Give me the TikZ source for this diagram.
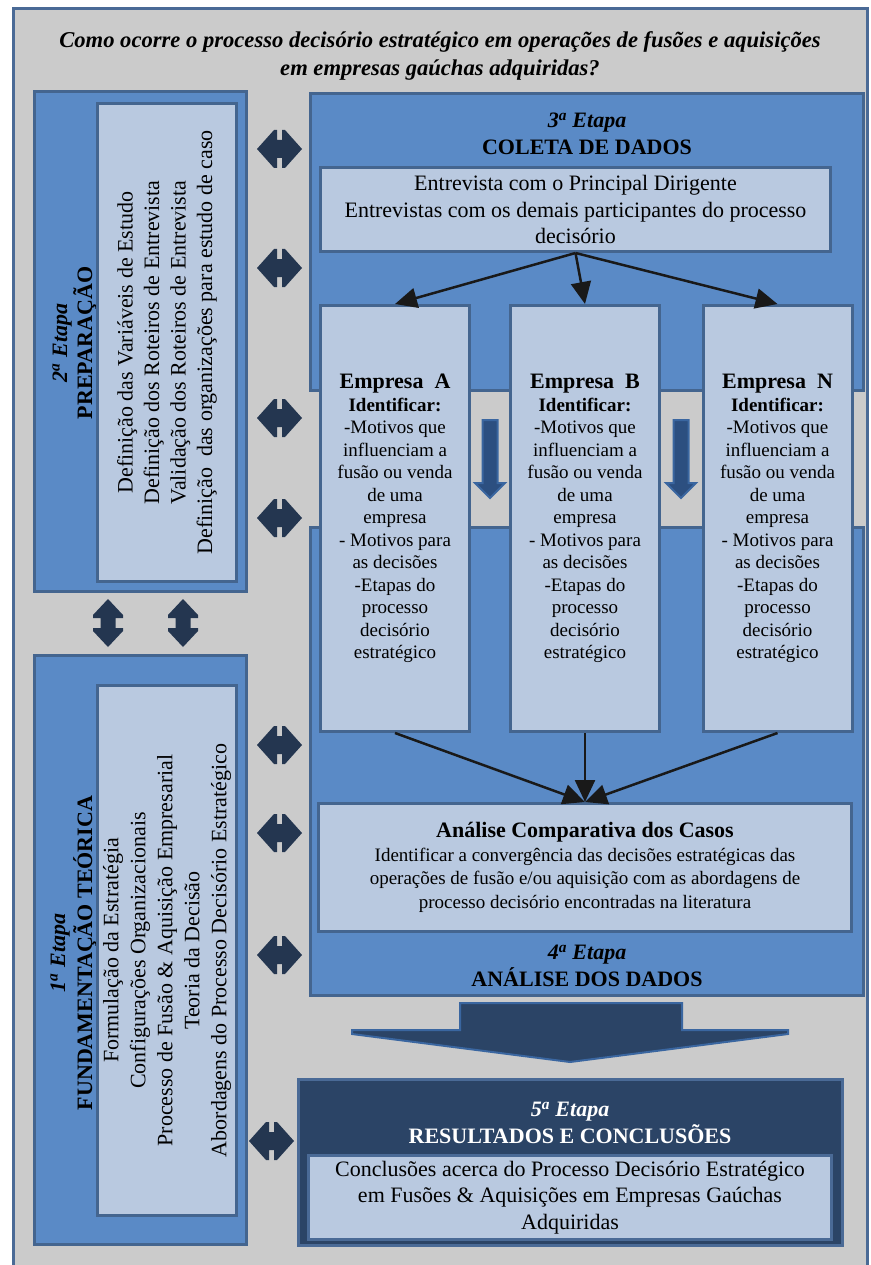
\documentclass[tikz,border=0pt]{standalone}
\usepackage{fontspec}
\setmainfont{Liberation Serif}
\usetikzlibrary{arrows.meta}

\definecolor{bggray}{HTML}{CBCBCB}
\definecolor{framecol}{HTML}{4A6A96}
\definecolor{stageblue}{HTML}{5A8AC6}
\definecolor{edgeblue}{HTML}{44658F}
\definecolor{itemblue}{HTML}{B9C9E0}
\definecolor{navy}{HTML}{243650}
\definecolor{darkstage}{HTML}{2B4466}
\definecolor{downfill}{HTML}{2C4F80}
\definecolor{downedge}{HTML}{3A66A0}

\begin{document}
\begin{tikzpicture}[x=1pt, y=-1pt,
    stagebox/.style={draw=edgeblue, fill=stageblue, line width=3pt, inner sep=0pt},
    itembox/.style={draw=edgeblue, fill=itemblue, line width=3pt, inner sep=0pt, align=center},
    bodytext/.style={font=\fontsize{22}{26.5}\selectfont},
    smalltext/.style={font=\fontsize{19}{22.5}\selectfont},
    headtext/.style={align=center, font=\fontsize{22}{27}\selectfont\bfseries},
    flow/.style={draw=black!90, line width=2.5pt, -{Triangle[length=22pt, width=20pt]}},
    pics/hdouble/.style={code={
      \fill[navy] (-22.5,0) -- (-5.5,-19) -- (-2.5,-19) -- (-2.5,-9) -- (2.5,-9) -- (2.5,-19) -- (5.5,-19)
        -- (22.5,0) -- (5.5,19) -- (2.5,19) -- (2.5,9) -- (-2.5,9) -- (-2.5,19) -- (-5.5,19) -- cycle;}},
    pics/vdouble/.style={code={
      \fill[navy] (0,-24) -- (15,-8) -- (15,-5) -- (7.5,-5) -- (7.5,5) -- (15,5) -- (15,8)
        -- (0,24) -- (-15,8) -- (-15,5) -- (-7.5,5) -- (-7.5,-5) -- (-15,-5) -- (-15,-8) -- cycle;}},
    pics/gapdown/.style={code={
      \draw[fill=downfill, draw=downedge, line width=2pt] (-7.5,0) -- (7.5,0) -- (7.5,63) -- (15,63)
        -- (0,78) -- (-15,63) -- (-7.5,63) -- cycle;}}
  ]
    % page and frame
    \path[use as bounding box, fill=white] (0,0) rectangle (870,1265);
    \draw[draw=framecol, fill=bggray, line width=3pt] (13.5,8.5) rectangle (867.5,1280);

    % question
    \node[headtext, font=\fontsize{22.6}{28}\selectfont\bfseries\itshape] (question) at (440,56)
      {Como ocorre o processo decisório estratégico em operações de fusões e aquisições\\em empresas gaúchas adquiridas?};

    % 2a etapa
    \node[stagebox, minimum width=212pt, minimum height=500pt] (prep) at (140.5,341.5) {};
    \node[headtext, rotate=90, font=\fontsize{22}{25}\selectfont\bfseries] (prephead) at (74.5,343)
      {\textit{2\textsuperscript{a} Etapa}\\PREPARAÇÃO};
    \node[itembox, bodytext, rotate=90, minimum width=478pt, minimum height=139pt] (prepitems) at (167,342.5)
      {Definição das Variáveis de Estudo\\Definição dos Roteiros de Entrevista\\Validação dos Roteiros de Entrevista\\Definição \ das organizações para estudo de caso};

    % 1a etapa
    \node[stagebox, minimum width=212pt, minimum height=589pt] (theory) at (140.5,950) {};
    \node[headtext, rotate=90] (theoryhead) at (73.5,953)
      {\textit{1\textsuperscript{a} Etapa}\\FUNDAMENTAÇÃO TEÓRICA};
    \node[itembox, rotate=90, font=\fontsize{22}{27}\selectfont, minimum width=530pt, minimum height=139pt] (theoryitems) at (167,950.5)
      {Formulação da Estratégia\\Configurações Organizacionais\\Processo de Fusão \& Aquisição Empresarial\\Teoria da Decisão\\Abordagens do Processo Decisório Estratégico};

    % arrows between 1a and 2a etapa
    \pic at (108,623) {vdouble};
    \pic at (183,623) {vdouble};

    % 3a and 4a etapa
    \node[stagebox, minimum width=553pt, minimum height=297pt] (coleta) at (587,242) {};
    \node[stagebox, minimum width=553pt, minimum height=468pt] (analysis) at (587,761.5) {};
    \node[headtext] (coletahead) at (587,134) {\textit{3\textsuperscript{a} Etapa}\\COLETA DE DADOS};
    \node[headtext] (analysishead) at (587,966) {\textit{4\textsuperscript{a} Etapa}\\ANÁLISE DOS DADOS};
    \pic at (490,420) {gapdown};
    \pic at (681,420) {gapdown};

    \node[itembox, bodytext, minimum width=510pt, minimum height=84pt] (interview) at (575.5,209.5)
      {Entrevista com o Principal Dirigente\\Entrevistas com os demais participantes do processo\\decisório};

    % empresas
    \node[itembox, smalltext, minimum width=149pt, minimum height=426pt] (empA) at (395,518.5)
      {\textbf{\fontsize{22}{25}\selectfont Empresa\ \ A}\\\textbf{Identificar:}\\-Motivos que\\influenciam a\\fusão ou venda\\de uma\\empresa\\- Motivos para\\as decisões\\-Etapas do\\processo\\decisório\\estratégico};
    \node[itembox, smalltext, minimum width=149pt, minimum height=426pt] (empB) at (585,518.5)
      {\textbf{\fontsize{22}{25}\selectfont Empresa\ \ B}\\\textbf{Identificar:}\\-Motivos que\\influenciam a\\fusão ou venda\\de uma\\empresa\\- Motivos para\\as decisões\\-Etapas do\\processo\\decisório\\estratégico};
    \node[itembox, smalltext, minimum width=149pt, minimum height=426pt] (empN) at (777.5,518.5)
      {\textbf{\fontsize{22}{25}\selectfont Empresa\ \ N}\\\textbf{Identificar:}\\-Motivos que\\influenciam a\\fusão ou venda\\de uma\\empresa\\- Motivos para\\as decisões\\-Etapas do\\processo\\decisório\\estratégico};

    \node[itembox, font=\fontsize{19}{23.5}\selectfont, minimum width=533pt, minimum height=128pt] (compare) at (585,867.5)
      {\textbf{\fontsize{22}{24}\selectfont Análise Comparativa dos Casos}\\Identificar a convergência das decisões estratégicas das\\operações de fusão e/ou aquisição com as abordagens de\\processo decisório encontradas na literatura};

    % flow
    \draw[flow] (interview.south) -- (empA.north);
    \draw[flow] (interview.south) -- (empB.north);
    \draw[flow] (interview.south) -- (empN.north);
    \draw[flow] (empA.south) -- (compare.north);
    \draw[flow] (empB.south) -- (compare.north);
    \draw[flow] (empN.south) -- (compare.north);

    % into 5a etapa
    \draw[fill=darkstage, draw=downedge, line width=2pt] (460,1003) -- (682,1003) -- (682,1030) -- (788,1030)
      -- (788,1034) -- (570,1062) -- (352,1034) -- (352,1030) -- (460,1030) -- cycle;

    % 5a etapa
    \node[stagebox, fill=darkstage, draw=framecol, minimum width=544pt, minimum height=166pt] (results) at (570.5,1162.5) {};
    \node[headtext, text=white] (resultshead) at (570,1123) {\textit{5\textsuperscript{a} Etapa}\\RESULTADOS E CONCLUSÕES};
    \node[itembox, bodytext, draw=framecol, minimum width=523pt, minimum height=84pt] (conclusion) at (570,1197.5)
      {Conclusões acerca do Processo Decisório Estratégico\\em Fusões \& Aquisições em Empresas Gaúchas\\Adquiridas};

    % links to the left column
    \pic at (279.5,149) {hdouble};
    \pic at (279.5,268) {hdouble};
    \pic at (279.5,418) {hdouble};
    \pic at (279.5,518) {hdouble};
    \pic at (279.5,745) {hdouble};
    \pic at (279.5,833) {hdouble};
    \pic at (279.5,955) {hdouble};
    \pic at (271.5,1141) {hdouble};
\end{tikzpicture}
\end{document}
